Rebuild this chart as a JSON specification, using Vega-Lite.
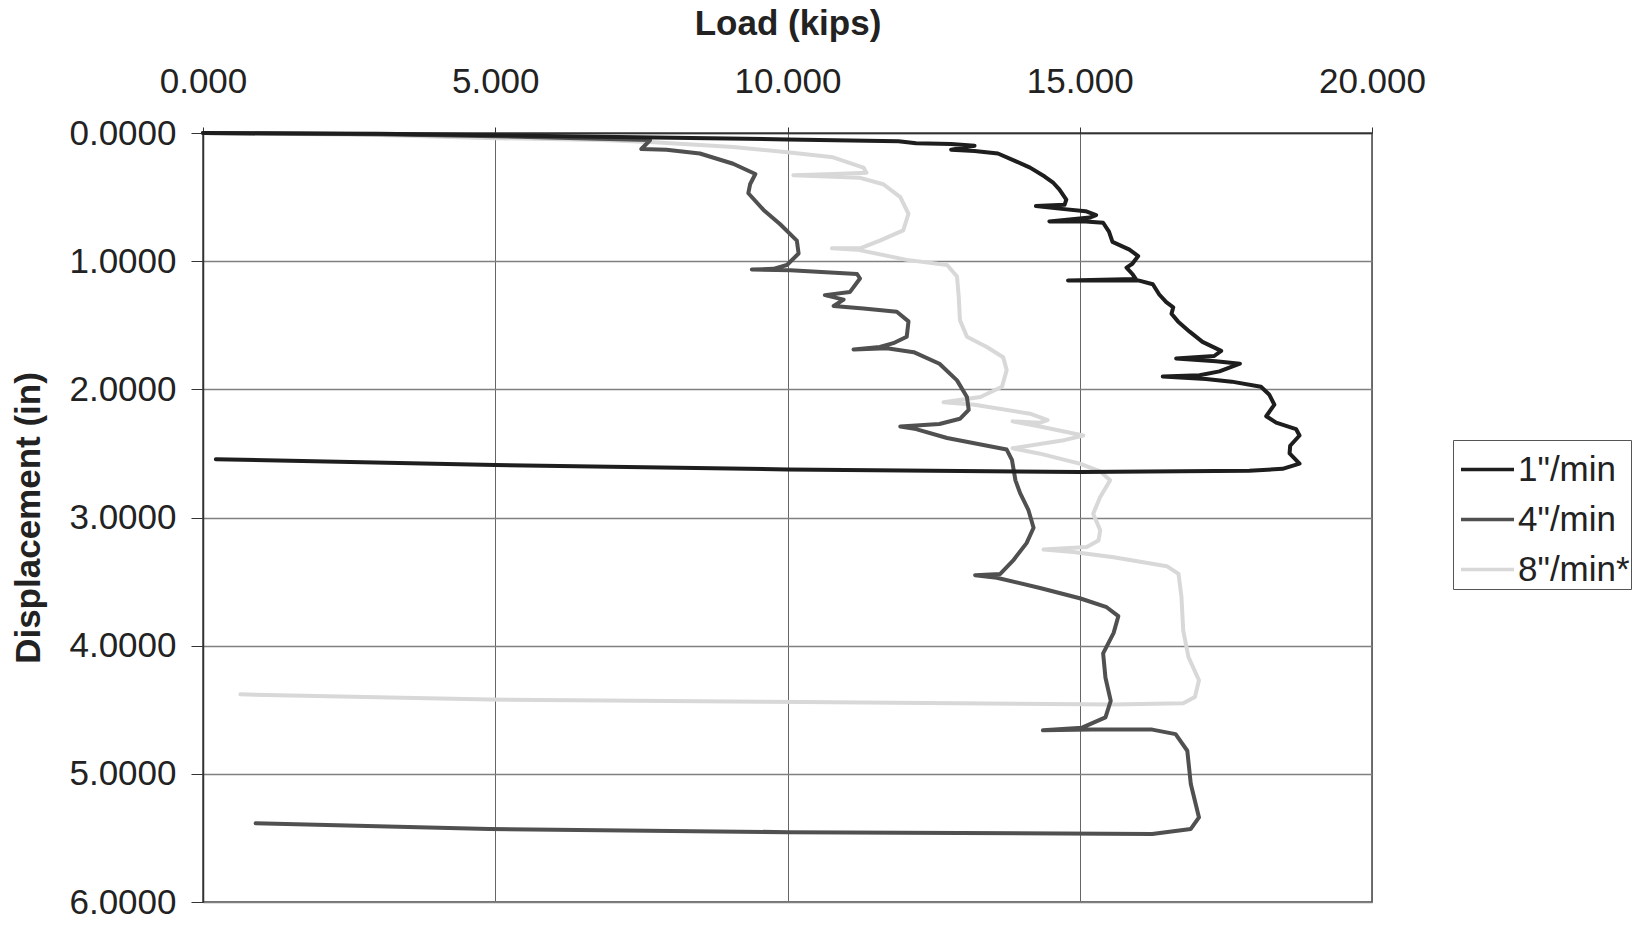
{
  "$schema": "https://vega.github.io/schema/vega-lite/v6.json",
  "width": 1169,
  "height": 769,
  "autosize": "none",
  "padding": {"left": 203, "top": 133, "right": 280, "bottom": 23},
  "background": "white",
  "config": {
    "font": "Liberation Sans",
    "view": {"stroke": "#444", "strokeWidth": 1.5},
    "axis": {"labelColor": "#222", "titleColor": "#222", "domainColor": "#333", "tickColor": "#333", "domainWidth": 1.5}
  },
  "datasets": {
    "curves": [
      {"s":"8\"/min*","i":0,"load":0,"disp":0},
      {"s":"8\"/min*","i":1,"load":3,"disp":0.015},
      {"s":"8\"/min*","i":2,"load":5,"disp":0.04},
      {"s":"8\"/min*","i":3,"load":6.8,"disp":0.055},
      {"s":"8\"/min*","i":4,"load":7.65,"disp":0.07},
      {"s":"8\"/min*","i":5,"load":9.07,"disp":0.11},
      {"s":"8\"/min*","i":6,"load":10.0,"disp":0.15},
      {"s":"8\"/min*","i":7,"load":10.78,"disp":0.19},
      {"s":"8\"/min*","i":8,"load":11.3,"disp":0.27},
      {"s":"8\"/min*","i":9,"load":11.35,"disp":0.31},
      {"s":"8\"/min*","i":10,"load":10.8,"disp":0.32},
      {"s":"8\"/min*","i":11,"load":10.1,"disp":0.33},
      {"s":"8\"/min*","i":12,"load":11.24,"disp":0.35},
      {"s":"8\"/min*","i":13,"load":11.64,"disp":0.40},
      {"s":"8\"/min*","i":14,"load":11.93,"disp":0.50},
      {"s":"8\"/min*","i":15,"load":12.07,"disp":0.63},
      {"s":"8\"/min*","i":16,"load":11.98,"disp":0.76},
      {"s":"8\"/min*","i":17,"load":11.58,"disp":0.84},
      {"s":"8\"/min*","i":18,"load":11.24,"disp":0.90},
      {"s":"8\"/min*","i":19,"load":10.76,"disp":0.90},
      {"s":"8\"/min*","i":20,"load":11.19,"disp":0.91},
      {"s":"8\"/min*","i":21,"load":12.04,"disp":0.99},
      {"s":"8\"/min*","i":22,"load":12.73,"disp":1.03},
      {"s":"8\"/min*","i":23,"load":12.9,"disp":1.12},
      {"s":"8\"/min*","i":24,"load":12.93,"disp":1.28},
      {"s":"8\"/min*","i":25,"load":12.95,"disp":1.46},
      {"s":"8\"/min*","i":26,"load":13.07,"disp":1.59},
      {"s":"8\"/min*","i":27,"load":13.41,"disp":1.67},
      {"s":"8\"/min*","i":28,"load":13.69,"disp":1.75},
      {"s":"8\"/min*","i":29,"load":13.75,"disp":1.85},
      {"s":"8\"/min*","i":30,"load":13.67,"disp":1.98},
      {"s":"8\"/min*","i":31,"load":13.3,"disp":2.06},
      {"s":"8\"/min*","i":32,"load":13.0,"disp":2.08},
      {"s":"8\"/min*","i":33,"load":12.67,"disp":2.10},
      {"s":"8\"/min*","i":34,"load":13.2,"disp":2.12},
      {"s":"8\"/min*","i":35,"load":14.15,"disp":2.19},
      {"s":"8\"/min*","i":36,"load":14.45,"disp":2.24},
      {"s":"8\"/min*","i":37,"load":14.32,"disp":2.26},
      {"s":"8\"/min*","i":38,"load":13.85,"disp":2.25},
      {"s":"8\"/min*","i":39,"load":14.32,"disp":2.29},
      {"s":"8\"/min*","i":40,"load":15.06,"disp":2.36},
      {"s":"8\"/min*","i":41,"load":14.7,"disp":2.40},
      {"s":"8\"/min*","i":42,"load":13.85,"disp":2.46},
      {"s":"8\"/min*","i":43,"load":14.3,"disp":2.50},
      {"s":"8\"/min*","i":44,"load":15.0,"disp":2.58},
      {"s":"8\"/min*","i":45,"load":15.35,"disp":2.64},
      {"s":"8\"/min*","i":46,"load":15.52,"disp":2.71},
      {"s":"8\"/min*","i":47,"load":15.35,"disp":2.84},
      {"s":"8\"/min*","i":48,"load":15.23,"disp":2.97},
      {"s":"8\"/min*","i":49,"load":15.35,"disp":3.10},
      {"s":"8\"/min*","i":50,"load":15.32,"disp":3.18},
      {"s":"8\"/min*","i":51,"load":15.12,"disp":3.23},
      {"s":"8\"/min*","i":52,"load":14.38,"disp":3.25},
      {"s":"8\"/min*","i":53,"load":14.89,"disp":3.27},
      {"s":"8\"/min*","i":54,"load":15.58,"disp":3.31},
      {"s":"8\"/min*","i":55,"load":16.49,"disp":3.38},
      {"s":"8\"/min*","i":56,"load":16.69,"disp":3.44},
      {"s":"8\"/min*","i":57,"load":16.74,"disp":3.62},
      {"s":"8\"/min*","i":58,"load":16.77,"disp":3.88},
      {"s":"8\"/min*","i":59,"load":16.86,"disp":4.09},
      {"s":"8\"/min*","i":60,"load":17.04,"disp":4.27},
      {"s":"8\"/min*","i":61,"load":16.97,"disp":4.40},
      {"s":"8\"/min*","i":62,"load":16.77,"disp":4.45},
      {"s":"8\"/min*","i":63,"load":15.57,"disp":4.46},
      {"s":"8\"/min*","i":64,"load":10.24,"disp":4.44},
      {"s":"8\"/min*","i":65,"load":4.9,"disp":4.42},
      {"s":"8\"/min*","i":66,"load":0.64,"disp":4.38},

      {"s":"4\"/min","i":0,"load":0,"disp":0},
      {"s":"4\"/min","i":1,"load":3,"disp":0.01},
      {"s":"4\"/min","i":2,"load":5,"disp":0.025},
      {"s":"4\"/min","i":3,"load":7.65,"disp":0.055},
      {"s":"4\"/min","i":4,"load":7.5,"disp":0.125},
      {"s":"4\"/min","i":5,"load":7.93,"disp":0.13},
      {"s":"4\"/min","i":6,"load":8.5,"disp":0.16},
      {"s":"4\"/min","i":7,"load":9.07,"disp":0.24},
      {"s":"4\"/min","i":8,"load":9.45,"disp":0.32},
      {"s":"4\"/min","i":9,"load":9.36,"disp":0.40},
      {"s":"4\"/min","i":10,"load":9.33,"disp":0.47},
      {"s":"4\"/min","i":11,"load":9.59,"disp":0.60},
      {"s":"4\"/min","i":12,"load":9.87,"disp":0.71},
      {"s":"4\"/min","i":13,"load":10.16,"disp":0.84},
      {"s":"4\"/min","i":14,"load":10.19,"disp":0.94},
      {"s":"4\"/min","i":15,"load":9.99,"disp":1.03},
      {"s":"4\"/min","i":16,"load":9.76,"disp":1.06},
      {"s":"4\"/min","i":17,"load":9.39,"disp":1.065},
      {"s":"4\"/min","i":18,"load":10.05,"disp":1.07},
      {"s":"4\"/min","i":19,"load":11.19,"disp":1.10},
      {"s":"4\"/min","i":20,"load":11.24,"disp":1.135},
      {"s":"4\"/min","i":21,"load":11.07,"disp":1.24},
      {"s":"4\"/min","i":22,"load":10.64,"disp":1.265},
      {"s":"4\"/min","i":23,"load":10.96,"disp":1.30},
      {"s":"4\"/min","i":24,"load":10.79,"disp":1.35},
      {"s":"4\"/min","i":25,"load":11.30,"disp":1.37},
      {"s":"4\"/min","i":26,"load":11.87,"disp":1.395},
      {"s":"4\"/min","i":27,"load":12.07,"disp":1.47},
      {"s":"4\"/min","i":28,"load":12.04,"disp":1.59},
      {"s":"4\"/min","i":29,"load":11.81,"disp":1.64},
      {"s":"4\"/min","i":30,"load":11.58,"disp":1.67},
      {"s":"4\"/min","i":31,"load":11.13,"disp":1.69},
      {"s":"4\"/min","i":32,"load":11.7,"disp":1.68},
      {"s":"4\"/min","i":33,"load":12.16,"disp":1.71},
      {"s":"4\"/min","i":34,"load":12.6,"disp":1.80},
      {"s":"4\"/min","i":35,"load":12.9,"disp":1.93},
      {"s":"4\"/min","i":36,"load":13.07,"disp":2.06},
      {"s":"4\"/min","i":37,"load":13.1,"disp":2.16},
      {"s":"4\"/min","i":38,"load":12.95,"disp":2.23},
      {"s":"4\"/min","i":39,"load":12.6,"disp":2.27},
      {"s":"4\"/min","i":40,"load":11.93,"disp":2.29},
      {"s":"4\"/min","i":41,"load":12.2,"disp":2.31},
      {"s":"4\"/min","i":42,"load":12.73,"disp":2.38},
      {"s":"4\"/min","i":43,"load":13.75,"disp":2.47},
      {"s":"4\"/min","i":44,"load":13.84,"disp":2.55},
      {"s":"4\"/min","i":45,"load":13.9,"disp":2.71},
      {"s":"4\"/min","i":46,"load":13.98,"disp":2.81},
      {"s":"4\"/min","i":47,"load":14.12,"disp":2.94},
      {"s":"4\"/min","i":48,"load":14.21,"disp":3.08},
      {"s":"4\"/min","i":49,"load":14.09,"disp":3.20},
      {"s":"4\"/min","i":50,"load":13.87,"disp":3.33},
      {"s":"4\"/min","i":51,"load":13.64,"disp":3.44},
      {"s":"4\"/min","i":52,"load":13.21,"disp":3.45},
      {"s":"4\"/min","i":53,"load":13.58,"disp":3.47},
      {"s":"4\"/min","i":54,"load":14.32,"disp":3.55},
      {"s":"4\"/min","i":55,"load":15.0,"disp":3.63},
      {"s":"4\"/min","i":56,"load":15.46,"disp":3.70},
      {"s":"4\"/min","i":57,"load":15.66,"disp":3.77},
      {"s":"4\"/min","i":58,"load":15.58,"disp":3.90},
      {"s":"4\"/min","i":59,"load":15.4,"disp":4.06},
      {"s":"4\"/min","i":60,"load":15.44,"disp":4.25},
      {"s":"4\"/min","i":61,"load":15.53,"disp":4.43},
      {"s":"4\"/min","i":62,"load":15.44,"disp":4.56},
      {"s":"4\"/min","i":63,"load":15.04,"disp":4.64},
      {"s":"4\"/min","i":64,"load":14.37,"disp":4.66},
      {"s":"4\"/min","i":65,"load":15.2,"disp":4.655},
      {"s":"4\"/min","i":66,"load":16.24,"disp":4.655},
      {"s":"4\"/min","i":67,"load":16.64,"disp":4.69},
      {"s":"4\"/min","i":68,"load":16.84,"disp":4.82},
      {"s":"4\"/min","i":69,"load":16.9,"disp":5.08},
      {"s":"4\"/min","i":70,"load":17.04,"disp":5.34},
      {"s":"4\"/min","i":71,"load":16.9,"disp":5.43},
      {"s":"4\"/min","i":72,"load":16.24,"disp":5.47},
      {"s":"4\"/min","i":73,"load":10.0,"disp":5.455},
      {"s":"4\"/min","i":74,"load":4.9,"disp":5.43},
      {"s":"4\"/min","i":75,"load":0.9,"disp":5.385},

      {"s":"1\"/min","i":0,"load":0,"disp":0},
      {"s":"1\"/min","i":1,"load":3.0,"disp":0.005},
      {"s":"1\"/min","i":2,"load":6.8,"disp":0.03},
      {"s":"1\"/min","i":3,"load":10.0,"disp":0.05},
      {"s":"1\"/min","i":4,"load":11.9,"disp":0.065},
      {"s":"1\"/min","i":5,"load":12.2,"disp":0.08},
      {"s":"1\"/min","i":6,"load":12.8,"disp":0.085},
      {"s":"1\"/min","i":7,"load":13.2,"disp":0.10},
      {"s":"1\"/min","i":8,"load":12.8,"disp":0.13},
      {"s":"1\"/min","i":9,"load":13.2,"disp":0.14},
      {"s":"1\"/min","i":10,"load":13.6,"disp":0.16},
      {"s":"1\"/min","i":11,"load":13.9,"disp":0.22},
      {"s":"1\"/min","i":12,"load":14.15,"disp":0.27},
      {"s":"1\"/min","i":13,"load":14.4,"disp":0.34},
      {"s":"1\"/min","i":14,"load":14.55,"disp":0.39},
      {"s":"1\"/min","i":15,"load":14.65,"disp":0.44},
      {"s":"1\"/min","i":16,"load":14.77,"disp":0.52},
      {"s":"1\"/min","i":17,"load":14.74,"disp":0.56},
      {"s":"1\"/min","i":18,"load":14.25,"disp":0.57},
      {"s":"1\"/min","i":19,"load":14.65,"disp":0.59},
      {"s":"1\"/min","i":20,"load":15.1,"disp":0.61},
      {"s":"1\"/min","i":21,"load":15.28,"disp":0.64},
      {"s":"1\"/min","i":22,"load":15.17,"disp":0.66},
      {"s":"1\"/min","i":23,"load":14.48,"disp":0.69},
      {"s":"1\"/min","i":24,"load":15.1,"disp":0.69},
      {"s":"1\"/min","i":25,"load":15.4,"disp":0.70},
      {"s":"1\"/min","i":26,"load":15.5,"disp":0.77},
      {"s":"1\"/min","i":27,"load":15.56,"disp":0.85},
      {"s":"1\"/min","i":28,"load":15.85,"disp":0.91},
      {"s":"1\"/min","i":29,"load":16.0,"disp":0.96},
      {"s":"1\"/min","i":30,"load":15.9,"disp":1.02},
      {"s":"1\"/min","i":31,"load":15.8,"disp":1.05},
      {"s":"1\"/min","i":32,"load":15.9,"disp":1.10},
      {"s":"1\"/min","i":33,"load":15.96,"disp":1.14},
      {"s":"1\"/min","i":34,"load":14.8,"disp":1.15},
      {"s":"1\"/min","i":35,"load":16.0,"disp":1.15},
      {"s":"1\"/min","i":36,"load":16.25,"disp":1.18},
      {"s":"1\"/min","i":37,"load":16.36,"disp":1.26},
      {"s":"1\"/min","i":38,"load":16.48,"disp":1.32},
      {"s":"1\"/min","i":39,"load":16.6,"disp":1.36},
      {"s":"1\"/min","i":40,"load":16.57,"disp":1.41},
      {"s":"1\"/min","i":41,"load":16.68,"disp":1.47},
      {"s":"1\"/min","i":42,"load":16.88,"disp":1.55},
      {"s":"1\"/min","i":43,"load":17.1,"disp":1.63},
      {"s":"1\"/min","i":44,"load":17.42,"disp":1.70},
      {"s":"1\"/min","i":45,"load":17.3,"disp":1.74},
      {"s":"1\"/min","i":46,"load":16.65,"disp":1.76},
      {"s":"1\"/min","i":47,"load":17.33,"disp":1.78},
      {"s":"1\"/min","i":48,"load":17.74,"disp":1.80},
      {"s":"1\"/min","i":49,"load":17.39,"disp":1.86},
      {"s":"1\"/min","i":50,"load":17.05,"disp":1.89},
      {"s":"1\"/min","i":51,"load":16.42,"disp":1.90},
      {"s":"1\"/min","i":52,"load":17.16,"disp":1.92},
      {"s":"1\"/min","i":53,"load":17.6,"disp":1.94},
      {"s":"1\"/min","i":54,"load":18.1,"disp":1.98},
      {"s":"1\"/min","i":55,"load":18.24,"disp":2.04},
      {"s":"1\"/min","i":56,"load":18.33,"disp":2.12},
      {"s":"1\"/min","i":57,"load":18.19,"disp":2.21},
      {"s":"1\"/min","i":58,"load":18.36,"disp":2.26},
      {"s":"1\"/min","i":59,"load":18.7,"disp":2.31},
      {"s":"1\"/min","i":60,"load":18.76,"disp":2.36},
      {"s":"1\"/min","i":61,"load":18.6,"disp":2.44},
      {"s":"1\"/min","i":62,"load":18.59,"disp":2.50},
      {"s":"1\"/min","i":63,"load":18.76,"disp":2.58},
      {"s":"1\"/min","i":64,"load":18.47,"disp":2.62},
      {"s":"1\"/min","i":65,"load":17.9,"disp":2.635},
      {"s":"1\"/min","i":66,"load":15.0,"disp":2.645},
      {"s":"1\"/min","i":67,"load":10.0,"disp":2.625},
      {"s":"1\"/min","i":68,"load":5.0,"disp":2.59},
      {"s":"1\"/min","i":69,"load":0.22,"disp":2.545}
    ]
  },
  "data": {"name": "curves"},
  "mark": {"type": "line", "strokeWidth": 4, "strokeJoin": "round", "strokeCap": "round"},
  "encoding": {
    "x": {
      "field": "load", "type": "quantitative",
      "scale": {"domain": [0, 20], "nice": false, "zero": false},
      "axis": {
        "orient": "top", "values": [0, 5, 10, 15, 20], "format": ".3f",
        "title": "Load (kips)", "titleFontSize": 35, "titleFontWeight": "bold",
        "titleBaseline": "alphabetic", "titleY": -99, "titleX": 584.5,
        "labelFontSize": 35, "labelBaseline": "alphabetic", "labelPadding": 35, "tickSize": 6,
        "grid": true, "gridColor": "#666", "gridWidth": 1, "labelFlush": false
      }
    },
    "y": {
      "field": "disp", "type": "quantitative",
      "scale": {"domain": [0, 6], "reverse": true, "nice": false, "zero": false},
      "axis": {
        "orient": "left", "values": [0, 1, 2, 3, 4, 5, 6], "format": ".4f",
        "title": "Displacement (in)", "titleFontSize": 35, "titleFontWeight": "bold",
        "titleX": -157, "titleY": 384.5,
        "labelFontSize": 35, "labelPadding": 15, "tickSize": 12,
        "grid": true, "gridColor": "#808080", "gridWidth": 1.3, "labelFlush": false
      }
    },
    "color": {
      "field": "s", "type": "nominal",
      "scale": {"domain": ["1\"/min", "4\"/min", "8\"/min*"], "range": ["#1e1e1e", "#505050", "#d8d8d8"]},
      "legend": {
        "title": null, "orient": "none", "legendX": 1250, "legendY": 307,
        "padding": 1, "strokeColor": "#555", "fillColor": "white",
        "symbolType": "stroke", "symbolSize": 2809, "symbolStrokeWidth": 3.5, "symbolOffset": 5,
        "labelFontSize": 35, "labelColor": "#222", "labelOffset": 2, "rowPadding": 3
      }
    },
    "order": {"field": "i", "type": "quantitative"}
  }
}
